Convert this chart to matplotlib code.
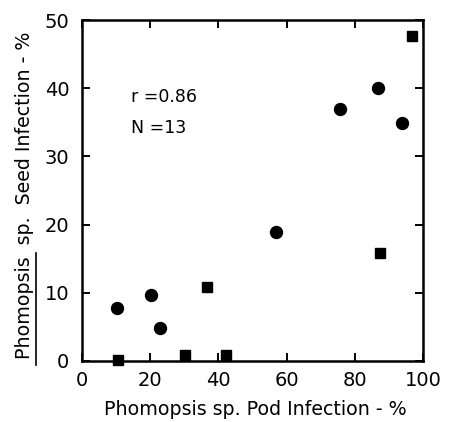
"""
Phomopsis pod infection vs seed infection scatter.
"""

import matplotlib
matplotlib.use("Agg")
import matplotlib.pyplot as plt
from matplotlib.lines import Line2D

# circles
circle_pod = [10.4, 20.2, 22.9, 57.0, 75.8, 86.7, 93.7]
circle_seed = [7.8, 9.7, 4.9, 18.9, 36.9, 40.1, 34.9]

# squares
square_pod = [10.6, 30.3, 36.8, 42.2, 87.4, 96.9]
square_seed = [0.2, 0.9, 10.9, 0.9, 15.9, 47.7]

x_ticks = [0, 20, 40, 60, 80, 100]
y_ticks = [0, 10, 20, 30, 40, 50]

plt.rcParams['font.family'] = ['DejaVu Sans']

fig = plt.figure(figsize=(4.55, 4.22), dpi=100)
ax = fig.add_axes([82 / 455, 1 - 361 / 422, 341 / 455, 341 / 422])

ax.plot(circle_pod, circle_seed, 'o', color='black', markersize=8.6, clip_on=False)
ax.plot(square_pod, square_seed, 's', color='black', markersize=7.2, clip_on=False)

ax.set_xlim(0, 100)
ax.set_ylim(0, 50)
ax.set_xticks(x_ticks)
ax.set_yticks(y_ticks)

for spine in ax.spines.values():
    spine.set_linewidth(1.8)

ax.tick_params(direction='in', length=6, width=1.4, top=True, right=True,
               labelsize=14, pad=9)
ax.tick_params(axis='x', pad=7)

label_size = 13.7
ax.set_xlabel('Phomopsis sp. Pod Infection - %', fontsize=label_size)
ax.set_ylabel('Phomopsis  sp.  Seed Infection - %', fontsize=label_size)
ax.xaxis.set_label_coords(0.509, -0.113)
ax.yaxis.set_label_coords(-0.14, 0.485)

ax.text(14.5, 38.7, 'r =0.86', fontsize=12.5, va='center')
ax.text(14.5, 34.2, 'N =13', fontsize=12.5, va='center')

# underline under "Phomopsis" on the y label
fig.canvas.draw()
renderer = fig.canvas.get_renderer()
lab_box = ax.yaxis.label.get_window_extent(renderer)
probe = fig.text(0, 0, 'Phomopsis', fontsize=label_size)
word_w = probe.get_window_extent(renderer).width
probe.remove()
W, H = fig.bbox.width, fig.bbox.height
ux = (lab_box.x1 + 2) / W
fig.add_artist(Line2D([ux, ux], [(lab_box.y0 - 6) / H, (lab_box.y0 + word_w + 4) / H],
                      color='black', linewidth=1.2))

fig.savefig('out.png', dpi=100)
